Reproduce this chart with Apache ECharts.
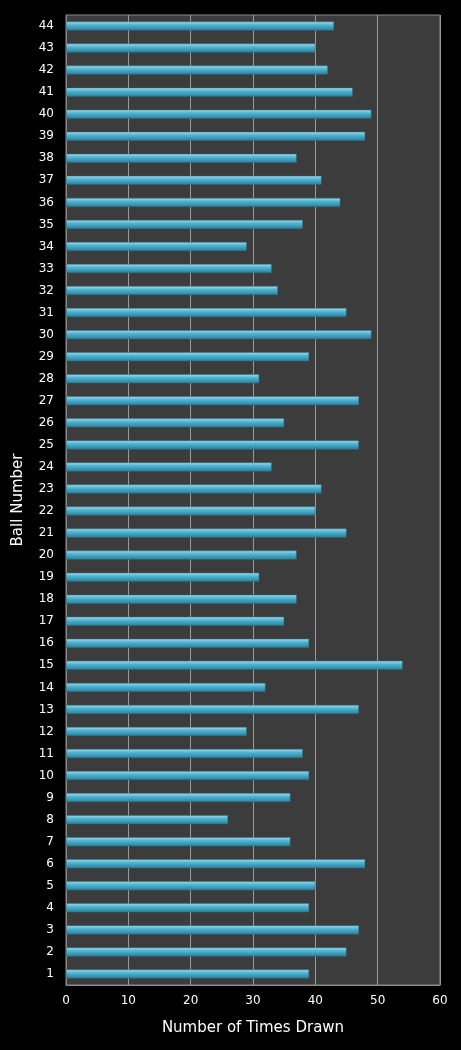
<!DOCTYPE html>
<html><head><meta charset="utf-8">
<script src="https://cdn.jsdelivr.net/npm/echarts@6/dist/echarts.min.js"></script>
<style>html,body{margin:0;padding:0;background:#000;}#c{width:461px;height:1050px;}</style>
</head><body><div id="c"></div>
<script>
const categories = Array.from({length:44},(_,i)=>String(i+1));
const values = [39,45,47,39,40,48,36,26,36,39,38,29,47,32,54,39,35,37,31,37,45,40,41,33,47,35,47,31,39,49,45,34,33,29,38,44,41,37,48,49,46,42,40,43];
const xTicks = [0,10,20,30,40,50,60];
const chart = echarts.init(document.getElementById('c'));
chart.setOption({
  backgroundColor:'#000',
  animation:false,
  grid:{left:66,right:21,top:15,bottom:65,show:true,backgroundColor:'#3c3c3c',borderColor:'#8a8a8a',borderWidth:1},
  xAxis:{type:'value',min:xTicks[0],max:xTicks[xTicks.length-1],interval:10,
    name:'Number of Times Drawn',nameLocation:'middle',nameGap:36,
    nameTextStyle:{color:'#fff',fontSize:15,fontFamily:'DejaVu Sans'},
    axisLine:{show:true,lineStyle:{color:'#8a8a8a'}},axisTick:{show:false},
    axisLabel:{color:'#fff',fontSize:12,fontFamily:'DejaVu Sans',margin:10},
    splitLine:{show:true,lineStyle:{color:'#9a9a9a',width:1}}},
  yAxis:{type:'category',data:categories,
    name:'Ball Number',nameLocation:'middle',nameGap:40,nameRotate:90,
    nameTextStyle:{color:'#fff',fontSize:15,fontFamily:'DejaVu Sans'},
    axisLine:{show:true,lineStyle:{color:'#8a8a8a'}},axisTick:{show:false},
    axisLabel:{color:'#fff',fontSize:12,fontFamily:'DejaVu Sans',margin:12}},
  series:[{type:'bar',data:values,barWidth:9,
    itemStyle:{color:new echarts.graphic.LinearGradient(0,0,0,1,[
      {offset:0,color:'#9fdcef'},{offset:0.4,color:'#4fb3d0'},{offset:1,color:'#2a7f9a'}]),
      borderColor:'#2a6f86',borderWidth:0.5}}]
});
</script></body></html>
